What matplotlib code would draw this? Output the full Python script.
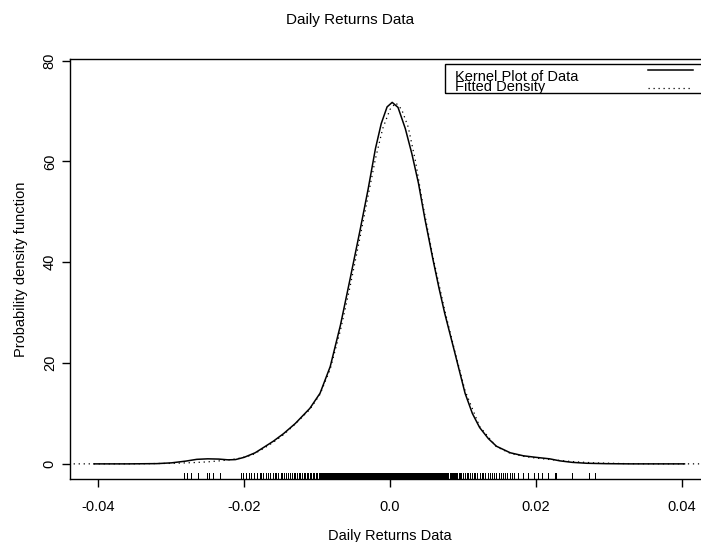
import matplotlib
matplotlib.use("Agg")
import matplotlib.pyplot as plt
from matplotlib.patches import Rectangle
from matplotlib.lines import Line2D

plt.rcParams['font.family'] = ['Liberation Sans', 'DejaVu Sans']

# ---- data ----
kernel_x = [-0.0406, -0.036, -0.032, -0.030, -0.028, -0.0265, -0.025, -0.0235, -0.0222,
            -0.0212, -0.020, -0.0185, -0.0174, -0.016, -0.0146, -0.013, -0.0118, -0.011,
            -0.0096, -0.0082, -0.0068, -0.0055, -0.0041, -0.0030, -0.0020, -0.0012,
            -0.0004, 0.0003, 0.0011, 0.0021, 0.0030, 0.0039, 0.0048, 0.0059, 0.0067,
            0.0075, 0.0089, 0.0103, 0.0113, 0.0123, 0.0135, 0.0146, 0.0165, 0.0183,
            0.0200, 0.0219, 0.0233, 0.0250, 0.0270, 0.0297, 0.033, 0.037, 0.0404]
kernel_y = [0.0, 0.0, 0.05, 0.2, 0.55, 0.9, 1.0, 0.95, 0.8,
            0.85, 1.3, 2.2, 3.2, 4.5, 6.0, 8.0, 9.8, 11.0,
            14.0, 19.3, 27.5, 36.5, 46.4, 54.5, 62.5, 67.5,
            70.8, 71.7, 70.7, 66.5, 61.5, 55.7, 48.5, 40.5, 35.0,
            29.9, 22.0, 14.0, 10.0, 7.2, 5.0, 3.5, 2.2, 1.6,
            1.3, 1.0, 0.6, 0.3, 0.12, 0.04, 0.0, 0.0, 0.0]

fitted_x = [-0.0434, -0.035, -0.030, -0.027, -0.025, -0.023, -0.021, -0.019, -0.0174,
            -0.016, -0.0146, -0.013, -0.011, -0.0096, -0.0082, -0.0068, -0.0055,
            -0.0041, -0.003, -0.002, -0.001, 0.0, 0.0008, 0.0016, 0.0025, 0.0035,
            0.0045, 0.0059, 0.0075, 0.0089, 0.0103, 0.0123, 0.0146, 0.0165, 0.0183,
            0.020, 0.022, 0.025, 0.028, 0.032, 0.036, 0.0438]
fitted_y = [0.0, 0.02, 0.1, 0.25, 0.4, 0.65, 1.0, 1.7, 3.0,
            4.3, 5.8, 7.9, 10.8, 13.8, 18.8, 26.5, 35.0,
            45.0, 53.2, 60.5, 66.5, 70.3, 71.6, 70.3, 66.8, 60.0,
            51.5, 41.0, 30.5, 22.3, 14.5, 7.4, 3.4, 2.1, 1.5,
            1.15, 0.85, 0.45, 0.2, 0.06, 0.01, 0.0]

# rug observations, in units of 1e-4
rug_bp = [-282, -279, -273, -263, -251, -248, -243, -233,
          -204, -201, -197, -194, -191, -186, -183, -179, -177, -174, -170, -167,
          -164, -161, -158, -156, -153, -150, -148, -145, -143, -140, -137, -135,
          -132, -130, -128, -125, -123, -121, -118, -116, -114, -112, -110, -108,
          -106, -104, -102, -100, -98, -96, -94, -93,
          -92, -91, -90, -89, -88, -87, -86, -85, -84, -83, -82, -81, -80, -79,
          -78, -77, -76, -75, -74, -73, -72, -71, -70, -69, -68, -67, -66, -65,
          -64, -63, -62, -61, -60, -59, -58, -57, -56, -55, -54, -53, -52, -51,
          -50, -49, -48, -47, -46, -45, -44, -43, -42, -41, -40, -39, -38, -37,
          -36, -35, -34, -33, -32, -31, -30, -29, -28, -27, -26, -25, -24, -23,
          -22, -21, -20, -19, -18, -17, -16, -15, -14, -13, -12, -11, -10, -9,
          -8, -7, -6, -5, -4, -3, -2, -1, 0, 1, 2, 3, 4, 5, 6, 7, 8, 9, 10, 11,
          12, 13, 14, 15, 16, 17, 18, 19, 20, 21, 22, 23, 24, 25, 26, 27, 28, 29,
          30, 31, 32, 33, 34, 35, 36, 37, 38, 39, 40, 41, 42, 43, 44, 45, 46, 47,
          48, 49, 50, 51, 52, 53, 54, 55, 56, 57, 58, 59, 60, 61, 62, 63, 64, 65,
          66, 67, 68, 69, 70, 71, 72, 73, 74, 75, 77, 78, 79, 80, 82, 83, 85, 86,
          88, 89, 91, 92, 94,
          96, 98, 100, 103, 105, 107, 110, 112, 115, 117, 120, 123, 126, 128,
          131, 134, 137, 140, 143, 146, 149, 152, 155, 158, 161, 164, 167, 170,
          176, 183, 189, 197, 203, 209, 217, 226, 228, 250, 273, 281]

x_ticks = [-0.04, -0.02, 0.0, 0.02, 0.04]
x_tick_labels = ["-0.04", "-0.02", "0.0", "0.02", "0.04"]
y_ticks = [0, 20, 40, 60, 80]
y_tick_labels = ["0", "20", "40", "60", "80"]
legend_labels = ["Kernel Plot of Data", "Fitted Density"]

# ---- figure ----
W, H = 701, 542
fig = plt.figure(figsize=(W / 100, H / 100), dpi=100)
ax = fig.add_axes([70 / W, (H - 479) / H, 640 / W, 420 / H])
ax.set_xlim(-0.0439, 0.0439)
ax.set_ylim(-3.0, 80.3)

fs = 10.5
ax.plot(fitted_x, fitted_y, color='black', lw=0.9, linestyle=(0, (1, 3)))
ax.plot(kernel_x, kernel_y, color='black', lw=1.1)

rug = [v / 10000 for v in rug_bp]
ax.vlines(rug, -3.0, -1.8, color='black', lw=0.72, antialiased=False)

for s in ['left', 'bottom', 'top', 'right']:
    ax.spines[s].set_linewidth(1.0)

ax.set_xticks(x_ticks)
ax.set_xticklabels(x_tick_labels, fontsize=fs)
ax.set_yticks(y_ticks)
ax.set_yticklabels(y_tick_labels, fontsize=fs, rotation=90, va='center')
ax.tick_params(axis='both', length=6, width=1.0)
ax.tick_params(axis='x', pad=9)
ax.tick_params(axis='y', pad=3.5)

ax.set_xlabel("Daily Returns Data", fontsize=fs, labelpad=11)
ax.set_ylabel("Probability density function", fontsize=fs, labelpad=11)
fig.text(0.5, 1 - 20 / H, "Daily Returns Data", ha='center', va='center', fontsize=11)

# legend (R-style box, running off the right edge)
ax.add_patch(Rectangle((0.586, 0.919), 0.5, 0.069, transform=ax.transAxes,
                       fill=False, lw=1.0, edgecolor='black', clip_on=False))
ax.text(0.602, 0.958, legend_labels[0], transform=ax.transAxes, fontsize=fs,
        va='center', ha='left')
ax.text(0.602, 0.933, legend_labels[1], transform=ax.transAxes, fontsize=fs,
        va='center', ha='left')
ax.add_line(Line2D([0.903, 0.973], [0.974, 0.974], transform=ax.transAxes,
                   color='black', lw=1.1))
ax.add_line(Line2D([0.903, 0.973], [0.931, 0.931], transform=ax.transAxes,
                   color='black', lw=0.9, linestyle=(0, (1, 3))))

fig.savefig("out.png", dpi=100)
